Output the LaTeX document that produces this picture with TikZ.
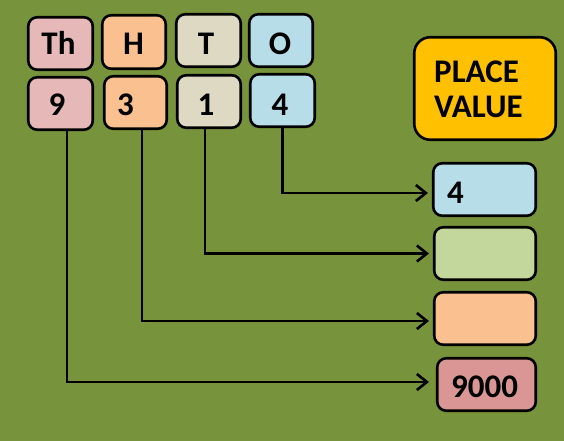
\documentclass[tikz,border=0pt]{standalone}
\usepackage{fontspec}
\setmainfont{Carlito}
\usetikzlibrary{arrows.meta}
\definecolor{bg}{HTML}{77933C}
\definecolor{cpink}{HTML}{E6B9B8}
\definecolor{corange}{HTML}{FAC090}
\definecolor{ctan}{HTML}{DDD9C3}
\definecolor{cblue}{HTML}{B7DEE8}
\definecolor{cgreen}{HTML}{C3D69B}
\definecolor{cred}{HTML}{D99694}
\definecolor{cgold}{HTML}{FFC000}
\tikzset{
  box/.style={draw=black, line width=2.6pt, rounded corners=9pt, inner sep=0pt},
  lbl/.style={font=\fontsize{33}{33}\selectfont\bfseries, inner sep=0pt},
  conn/.style={line width=2.6pt, -{Straight Barb[length=10pt,width=16pt,line width=2.6pt]}},
}
\begin{document}
\begin{tikzpicture}[x=1pt,y=-1pt]
\fill[bg] (0,0) rectangle (564,441);
\useasboundingbox (0,0) rectangle (564,441);
% top row
\node[box, fill=cpink,   minimum width=64.5pt, minimum height=52.5pt] (bTh) at (60.5,43.5) {};
\node[box, fill=corange, minimum width=63.5pt, minimum height=53.5pt] (bH)  at (134,42) {};
\node[box, fill=ctan,    minimum width=64.5pt, minimum height=52.5pt] (bT)  at (208.5,40.5) {};
\node[box, fill=cblue,   minimum width=63.5pt, minimum height=52.5pt] (bO)  at (281,40.5) {};
% second row
\node[box, fill=cpink,   minimum width=64.5pt, minimum height=52.5pt] (b9) at (60.5,103.5) {};
\node[box, fill=corange, minimum width=62.5pt, minimum height=52.5pt] (b3) at (135.5,102.5) {};
\node[box, fill=ctan,    minimum width=63.5pt, minimum height=52.5pt] (b1) at (209,101.5) {};
\node[box, fill=cblue,   minimum width=64.5pt, minimum height=52.5pt] (b4) at (282.5,100.5) {};
% place value
\node[box, rounded corners=16pt, fill=cgold, minimum width=141.5pt, minimum height=102.5pt] (bPV) at (485,88.5) {};
% right column
\node[box, fill=cblue,  minimum width=102.5pt, minimum height=52.5pt] (v1) at (484.5,189.5) {};
\node[box, fill=cgreen, minimum width=101.5pt, minimum height=52.5pt] (v2) at (485,253.5) {};
\node[box, fill=corange,minimum width=101.5pt, minimum height=52.5pt] (v3) at (485,318.5) {};
\node[box, fill=cred,   minimum width=98.5pt,  minimum height=52.5pt] (v4) at (486.5,384.5) {};
% labels
\node[lbl, anchor=base] (tTh) at (58.5,54.5) {Th};
\node[lbl, anchor=base] (tH)  at (133.5,54.5) {H};
\node[lbl, anchor=base] (tT)  at (206,54.5) {T};
\node[lbl, anchor=base] (tO)  at (280,54.5) {O};
\node[lbl, anchor=base] (t9)  at (57,115.5) {9};
\node[lbl, anchor=base] (t3)  at (125.5,115.5) {3};
\node[lbl, anchor=base] (t1)  at (206,115.5) {1};
\node[lbl, anchor=base] (t4)  at (280,115.5) {4};
\node[lbl, anchor=base west] (tP) at (434,83) {PLACE};
\node[lbl, anchor=base west] (tV) at (434,117.5) {VALUE};
\node[lbl, anchor=base west] (tv1) at (447,203.5) {4};
\node[lbl, anchor=base] (tv4) at (484.5,397.5) {9000};
% connectors
\draw[conn] (b4.south) |- ([xshift=-4pt,yshift=-3.5pt]v1.west);
\draw[conn] ([xshift=-4pt]b1.south) |- ([xshift=-4pt]v2.west);
\draw[conn] ([xshift=6.5pt]b3.south) |- ([xshift=-4pt,yshift=-2.5pt]v3.west);
\draw[conn] ([xshift=6.5pt]b9.south) |- ([xshift=-7pt,yshift=2.5pt]v4.west);
\end{tikzpicture}
\end{document}
